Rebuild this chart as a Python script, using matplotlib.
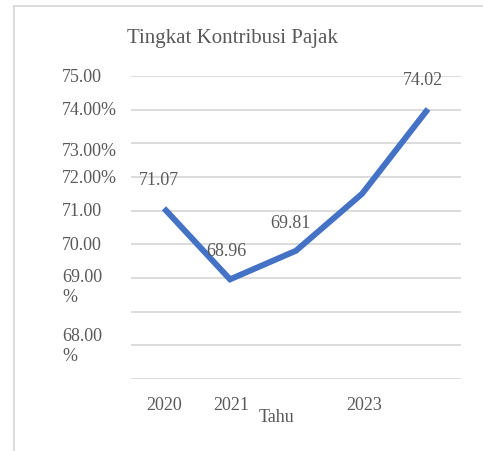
import matplotlib.pyplot as plt
from matplotlib.patches import Rectangle

# data
years = [2020, 2021, 2022, 2023, 2024]
values = [71.07, 68.96, 69.81, 71.5, 74.02]
point_labels = ['71.07', '68.96', '69.81', '', '74.02']

# the y tick labels as they appear (misaligned in the original)
ytick_text = ['75.00', '74.00%', '73.00%', '72.00%', '71.00', '70.00',
              '69.00\n%', '68.00\n%']
ytick_pos = [75.0, 74.0, 72.8, 72.0, 71.0, 70.0, 68.75, 67.0]
xtick_text = ['2020', '2021', '2023']
xtick_pos = [2020.0, 2021.02, 2023.03]

plt.rcParams['font.family'] = ['Liberation Serif', 'DejaVu Serif']
grey = '#595959'

fig = plt.figure(figsize=(4.83, 4.52), dpi=100)

# outer frame of the embedded chart
fig.patches.append(Rectangle((14 / 483, -0.1), 1.0, 1.1 - 7 / 452,
                             transform=fig.transFigure, fill=False,
                             edgecolor='#d9d9d9', linewidth=1.3))

ax = fig.add_axes([131 / 483, 1 - 380 / 452, 330 / 483, 303 / 452])
ax.set_xlim(2019.5, 2024.5)
ax.set_ylim(66, 75)
for y in range(66, 76):
    ax.axhline(y, color='#d9d9d9', linewidth=1.3, zorder=0)
for s in ax.spines.values():
    s.set_visible(False)
ax.set_xticks([])
ax.set_yticks([])

ax.plot(years, values, color='#4472C4', linewidth=4.3, solid_capstyle='butt',
        solid_joinstyle='miter', zorder=3)

label_off = [(-0.07, 0.87), (-0.06, 0.85), (-0.09, 0.85), (0, 0), (-0.08, 0.88)]
for x, v, t, (dx, dy) in zip(years, values, point_labels, label_off):
    if t:
        ax.text(x + dx, v + dy, t, fontsize=13, color=grey,
                ha='center', va='center', zorder=4)

for t, y in zip(ytick_text, ytick_pos):
    ax.text(-69 / 330, y, t, transform=ax.get_yaxis_transform(),
            fontsize=13, color=grey, ha='left', va='center',
            linespacing=1.2)
for t, x in zip(xtick_text, xtick_pos):
    ax.text(x, 65.25, t, fontsize=13, color=grey, ha='center', va='center')
ax.text(2021.7, 64.9, 'Tahu', fontsize=13, color=grey, ha='center', va='center')

fig.text(232 / 483, 1 - 38 / 452, 'Tingkat Kontribusi Pajak', fontsize=15,
         color=grey, ha='center', va='center')

fig.savefig('out.png', dpi=100)
